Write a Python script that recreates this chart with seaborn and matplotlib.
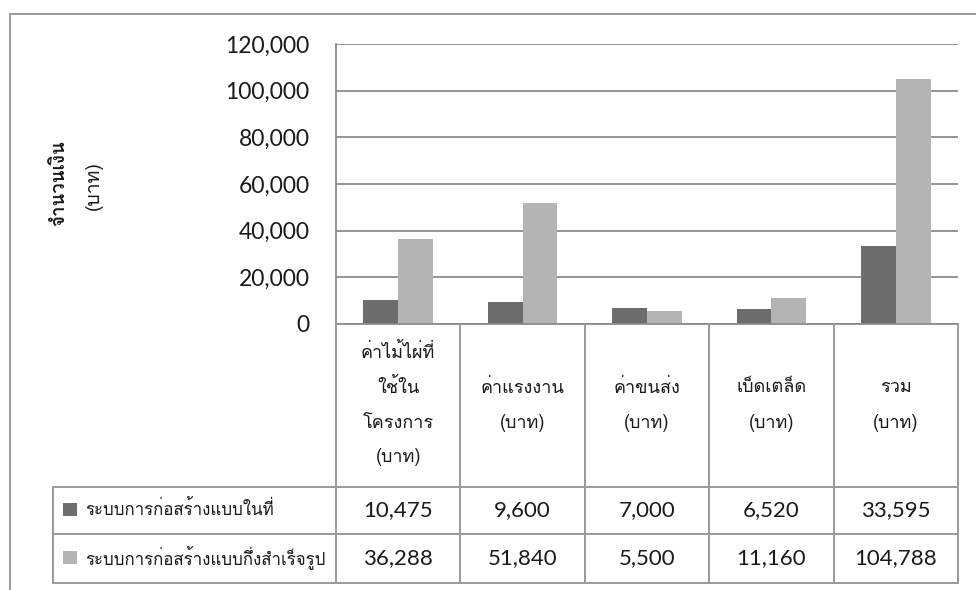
import matplotlib
matplotlib.use("Agg")
import matplotlib.pyplot as plt
import numpy as np
import pandas as pd
import seaborn as sns
from matplotlib import font_manager, transforms
from matplotlib.ft2font import FT2Font
from matplotlib.lines import Line2D
from matplotlib.patches import Rectangle

# ---- data -------------------------------------------------------------
categories = ["ค่าไม้ไผ่ที่\nใช้ใน\nโครงการ\n(บาท)", "ค่าแรงงาน\n(บาท)",
              "ค่าขนส่ง\n(บาท)", "เบ็ดเตล็ด\n(บาท)", "รวม\n(บาท)"]
series_names = ["ระบบการก่อสร้างแบบในที่", "ระบบการก่อสร้างแบบกึ่งสำเร็จรูป"]
onsite_cost = [10475, 9600, 7000, 6520, 33595]
prefab_cost = [36288, 51840, 5500, 11160, 104788]
y_ticks = [0, 20000, 40000, 60000, 80000, 100000, 120000]
y_label_lines = ["จำนวนเงิน", "(บาท)"]

# ---- fonts ------------------------------------------------------------
def covers_thai(path):
    try:
        return 0x0E01 in FT2Font(path).get_charmap()
    except Exception:
        return False

thai_family = None
for fe in font_manager.fontManager.ttflist:
    if covers_thai(fe.fname):
        thai_family = fe.name
        break
thai_fonts = ([thai_family] if thai_family else []) + ["DejaVu Sans"]
num_fonts = ["Lato", "DejaVu Sans"]

sns.set_theme(style="white")
plt.rcParams["font.family"] = num_fonts

DARK, LIGHT = "#6d6d6d", "#b4b4b4"
LINE = "#9a9a9a"
TEXT = "#1a1a1a"
W, H = 976, 590

fig = plt.figure(figsize=(W / 100, H / 100), dpi=100)
fig.patch.set_facecolor("white")

ax_left, ax_right, ax_top, ax_bottom = 336, 958, 44, 324
ax = fig.add_axes([ax_left / W, 1 - ax_bottom / H,
                   (ax_right - ax_left) / W, (ax_bottom - ax_top) / H])

df = pd.DataFrame({
    "category": categories * 2,
    "series": [series_names[0]] * len(categories) + [series_names[1]] * len(categories),
    "value": onsite_cost + prefab_cost,
})
sns.barplot(data=df, x="category", y="value", hue="series", order=categories,
            hue_order=series_names, palette=[DARK, LIGHT], width=0.56, gap=0,
            saturation=1, linewidth=0, legend=False, ax=ax)

ax.set_xlim(-0.5, len(categories) - 0.5)
ax.set_ylim(0, 120000)
ax.set_yticks(y_ticks)
ax.set_yticklabels([f"{v:,}" for v in y_ticks], fontsize=16.5, color=TEXT)
ax.set_xticks([])
ax.set_xlabel("")
ax.set_ylabel("")
ax.tick_params(axis="y", length=0, pad=19)
ax.yaxis.grid(True, color="#8c8c8c", linewidth=1.3)
ax.set_axisbelow(True)
for side in ("top", "right"):
    ax.spines[side].set_visible(False)
for side in ("left", "bottom"):
    ax.spines[side].set_color("#8c8c8c")
    ax.spines[side].set_linewidth(1.3)
ax.set_facecolor("none")

# pixel coordinates measured from the top-left corner of the figure
px = transforms.Affine2D().scale(1 / W, -1 / H).translate(0, 1) + fig.transFigure
cat_px = transforms.blended_transform_factory(ax.transData, px)

def line(xs, ys, tr):
    fig.add_artist(Line2D(xs, ys, transform=tr, color=LINE, linewidth=1.4,
                          clip_on=False))

# outer frame
line([10, W], [14, 14], px)
line([10, 10], [14, H], px)

# data table grid
head_top, row1, row2, row3 = 324, 487, 534, 583
table_left = 53
for i in range(len(categories) + 1):
    line([i - 0.5, i - 0.5], [head_top, row3], cat_px)
for yy in (row1, row2, row3):
    line([table_left, ax_right], [yy, yy], px)
line([table_left, table_left], [row1, row3], px)

# category headers
header_center, header_step = 405, 35
for i, cat in enumerate(categories):
    parts = cat.split("\n")
    for j, part in enumerate(parts):
        yy = header_center + (j - (len(parts) - 1) / 2) * header_step
        fig.text(i, yy, part, transform=cat_px, ha="center", va="center",
                 fontsize=13, color=TEXT, family=thai_fonts)

# values and legend keys
for r, (name, vals, col) in enumerate(zip(series_names, [onsite_cost, prefab_cost],
                                          [DARK, LIGHT])):
    yc = (row1 + row2) / 2 if r == 0 else (row2 + row3) / 2
    for i, v in enumerate(vals):
        fig.text(i, yc, f"{v:,}", transform=cat_px, ha="center", va="center",
                 fontsize=16, color=TEXT)
    fig.add_artist(Rectangle((63, yc - 7.5), 14, 13, transform=px,
                             facecolor=col, edgecolor="none"))
    fig.text(85, yc - 1, name, transform=px, ha="left", va="center",
             fontsize=12.2, color=TEXT, family=thai_fonts)

# y axis title
fig.text(59, 183, y_label_lines[0], transform=px, rotation=90, ha="center",
         va="center", fontsize=13.5, fontweight="bold", color=TEXT, family=thai_fonts)
fig.text(94, 186, y_label_lines[1], transform=px, rotation=90, ha="center",
         va="center", fontsize=14, color=TEXT, family=thai_fonts)

fig.savefig("out.png", dpi=100)
